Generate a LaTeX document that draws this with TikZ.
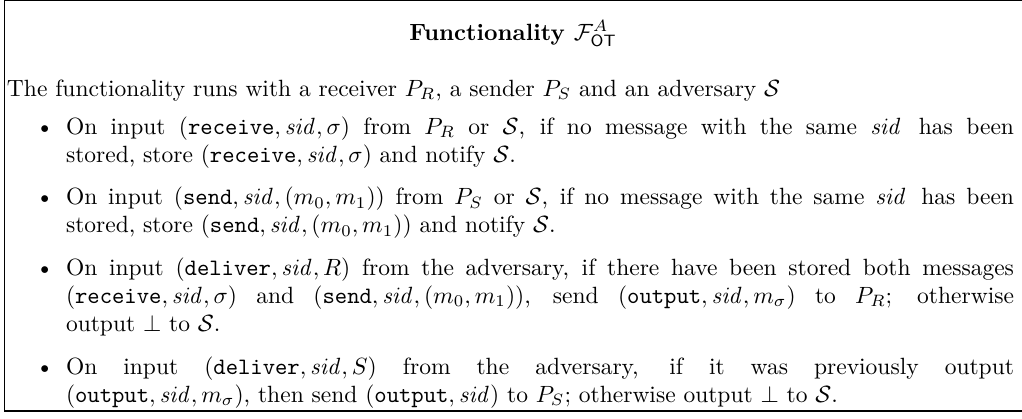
\documentclass[tikz,border=0pt]{standalone}
\usepackage{amsmath,amssymb}
\newlength\pxl
\setlength\pxl{0.4255pt}
\newcommand{\sidv}{\mathit{sid}}
\newcommand{\Sadv}{\mathcal{S}}
\begin{document}
\begin{tikzpicture}[x=\pxl,y=-\pxl,
  txt/.style={inner sep=0pt, outer sep=0pt},
  para/.style={txt, text width=948\pxl, align=justify},
  bul/.style={txt, anchor=base east},
  frame/.style={line width=0.55pt, line cap=rect}]
\useasboundingbox (0,0) rectangle (1022,418);
\coordinate (fr) at (1040,0.7);
\coordinate (br) at (1040,411);
\draw[frame] (fr) -- (4.3,0.7) -- (4.3,411) -- (br);
\node[txt, anchor=base] (title) at (513,40) {\textbf{Functionality $\mathcal{F}^{A}_{\mathsf{OT}}$}};
\node[txt, anchor=base west] (intro) at (7,96) {The functionality runs with a receiver $P_R$, a sender $P_S$ and an adversary $\Sadv$};
\node[bul] (b1) at (54,134) {\textbullet};
\node[para, anchor=base west] (i1) at (66,134) {On input $(\texttt{receive}, \sidv, \sigma)$ from $P_R$ or $\Sadv$, if no message with the same $\sidv$\,\ has been\linebreak stored, store $(\texttt{receive}, \sidv, \sigma)$ and notify $\Sadv$.};
\node[bul] (b2) at (54,204.6) {\textbullet};
\node[para, anchor=base west] (i2) at (66,204.6) {On input $(\texttt{send}, \sidv, (m_0,m_1))$ from $P_S$ or $\Sadv$, if no message with the same $\sidv$\,\ has been\linebreak stored, store $(\texttt{send}, \sidv, (m_0,m_1))$ and notify $\Sadv$.};
\node[bul] (b3) at (54,275.2) {\textbullet};
\node[para, anchor=base west] (i3) at (66,275.2) {On input $(\texttt{deliver}, \sidv, R)$ from the adversary, if there have been stored both messages\linebreak $(\texttt{receive}, \sidv, \sigma)$ and $(\texttt{send}, \sidv, (m_0,m_1))$, send $(\texttt{output}, \sidv, m_\sigma)$ to $P_R$; otherwise\linebreak output $\bot$ to $\Sadv$.};
\node[bul] (b4) at (54,374) {\textbullet};
\node[para, anchor=base west] (i4) at (66,374) {On input $(\texttt{deliver}, \sidv, S)$ from the adversary, if it was previously output\linebreak $(\texttt{output}, \sidv, m_\sigma)$, then send $(\texttt{output}, \sidv)$ to $P_S$; otherwise output $\bot$ to $\Sadv$.};
\end{tikzpicture}
\end{document}
